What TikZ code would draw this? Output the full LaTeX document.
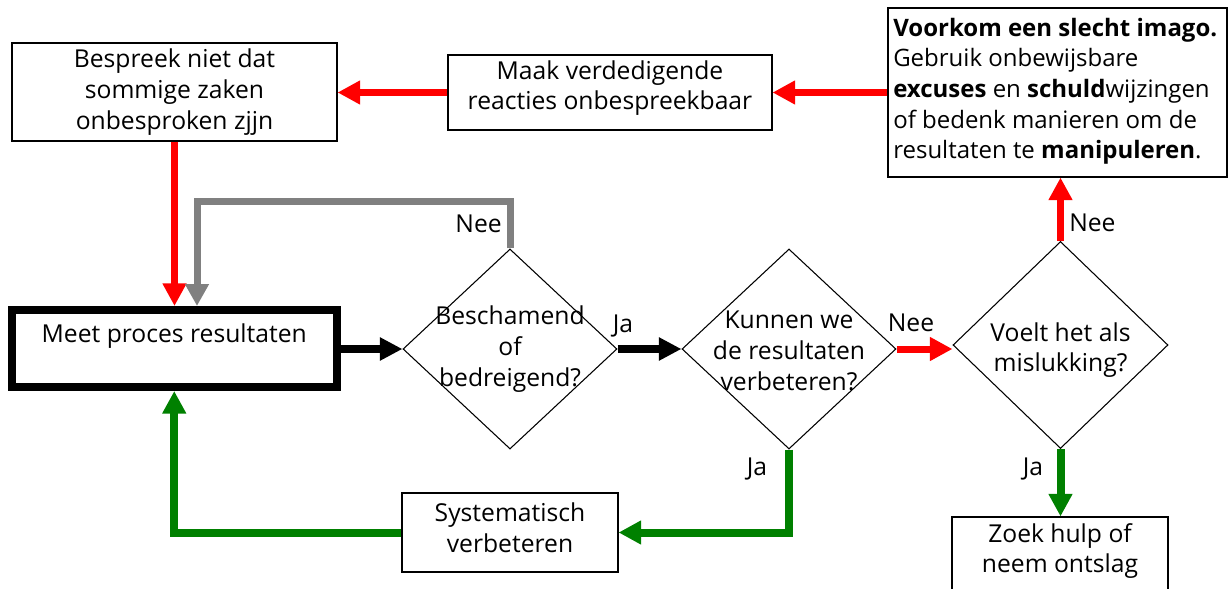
\documentclass[tikz,border=0pt]{standalone}
\usepackage{fontspec}
\setmainfont{Open Sans}
\usetikzlibrary{arrows.meta,shapes.geometric}
\definecolor{fred}{RGB}{255,0,0}
\definecolor{fgreen}{RGB}{0,128,0}
\definecolor{fgray}{RGB}{128,128,128}
\begin{document}
\begin{tikzpicture}[x=0.75pt,y=-0.75pt,
  font=\fontsize{18.5}{23}\selectfont,
  box/.style={draw, line width=0.8pt, rectangle, inner sep=0pt, align=center},
  dia/.style={draw, line width=0.8pt, diamond, inner sep=0pt},
  txt/.style={inner sep=0pt, align=center},
  lbl/.style={inner sep=0pt},
  redc/.style={draw=fred, line width=5.25pt, -{Triangle[length=17pt,width=17pt]}},
  grayc/.style={draw=fgray, line width=5.25pt, -{Triangle[length=16.5pt,width=17pt]}},
  greenc/.style={draw=fgreen, line width=6pt, -{Triangle[length=17pt,width=17pt]}},
  blackc/.style={draw=black, line width=6pt, -{Triangle[length=17pt,width=16.5pt]}}
]
\useasboundingbox (0,0) rectangle (1228,589);
% boxes
\node[box, minimum width=243.75pt, minimum height=73.5pt] (besp) at (174.5,92) {Bespreek niet dat\\sommige zaken\\onbesproken zjjn};
\node[box, minimum width=243pt, minimum height=56.25pt] (maak) at (610,92.5) {};
\node[txt] (maakt) at (610,88) {Maak verdedigende\\reacties onbespreekbaar};
\node[box, minimum width=254.25pt, minimum height=126.75pt] (tr) at (1057.5,92.5) {};
\node[txt, align=left, anchor=north west, font=\fontsize{18}{23}\selectfont] (trt) at (893,17.5) {\textbf{Voorkom een slecht imago.}\\Gebruik onbewijsbare\\\textbf{excuses} en \textbf{schuld}wijzingen\\of bedenk manieren om de\\resultaten te \textbf{manipuleren}.};
\node[box, line width=6pt, minimum width=243.4pt, minimum height=57.75pt] (meet) at (174.25,348.5) {Meet proces resultaten\\~};
\node[dia, minimum width=160.5pt, minimum height=150pt] (d1) at (510,349) {};
\node[txt] (d1t) at (510,349) {Beschamend\\of\\bedreigend?};
\node[dia, minimum width=160.5pt, minimum height=150pt] (d2) at (789,349) {};
\node[txt] (d2t) at (789,351) {Kunnen we\\de resultaten\\verbeteren?};
\node[dia, minimum width=161.25pt, minimum height=155.25pt] (d3) at (1060.5,345) {};
\node[txt] (d3t) at (1060.5,350) {Voelt het als\\mislukking?};
\node[box, minimum width=162pt, minimum height=59.25pt] (sys) at (510,532.5) {};
\node[txt] (syst) at (510,528) {Systematisch\\verbeteren};
\node[box, minimum width=162pt, minimum height=75pt] (zoek) at (1060,567) {};
\node[txt] (zoekt) at (1060,551) {Zoek hulp of\\neem ontslag};
% connectors
\draw[redc] (tr.west |- maak.east) -- (maak.east);
\draw[redc] (maak.west) -- (besp.east |- maak.west);
\draw[redc] (besp.south) -- (besp.south |- meet.north);
\coordinate (g1) at (197,201);
\draw[grayc] (d1.north) |- (g1) -- (g1 |- meet.north);
\draw[blackc] (meet.east |- d1.west) -- (d1.west);
\draw[blackc] (d1.east) -- (d2.west);
\draw[redc] (d2.east) -- (d2.east -| d3.west);
\draw[redc] (d3.north) -- (d3.north |- tr.south);
\draw[greenc] (d3.south) -- (d3.south |- zoek.north);
\draw[greenc] (d2.south) |- (sys.east);
\draw[greenc] (sys.west) -| (meet.south);
% labels
\node[lbl, anchor=base east] (l1) at (502,232) {Nee};
\node[lbl, anchor=base] (l2) at (623,332) {Ja};
\node[lbl, anchor=base] (l3) at (911,331) {Nee};
\node[lbl, anchor=base west] (l4) at (1069,231) {Nee};
\node[lbl, anchor=base] (l5) at (757,475) {Ja};
\node[lbl, anchor=base] (l6) at (1033,475) {Ja};
\end{tikzpicture}
\end{document}
